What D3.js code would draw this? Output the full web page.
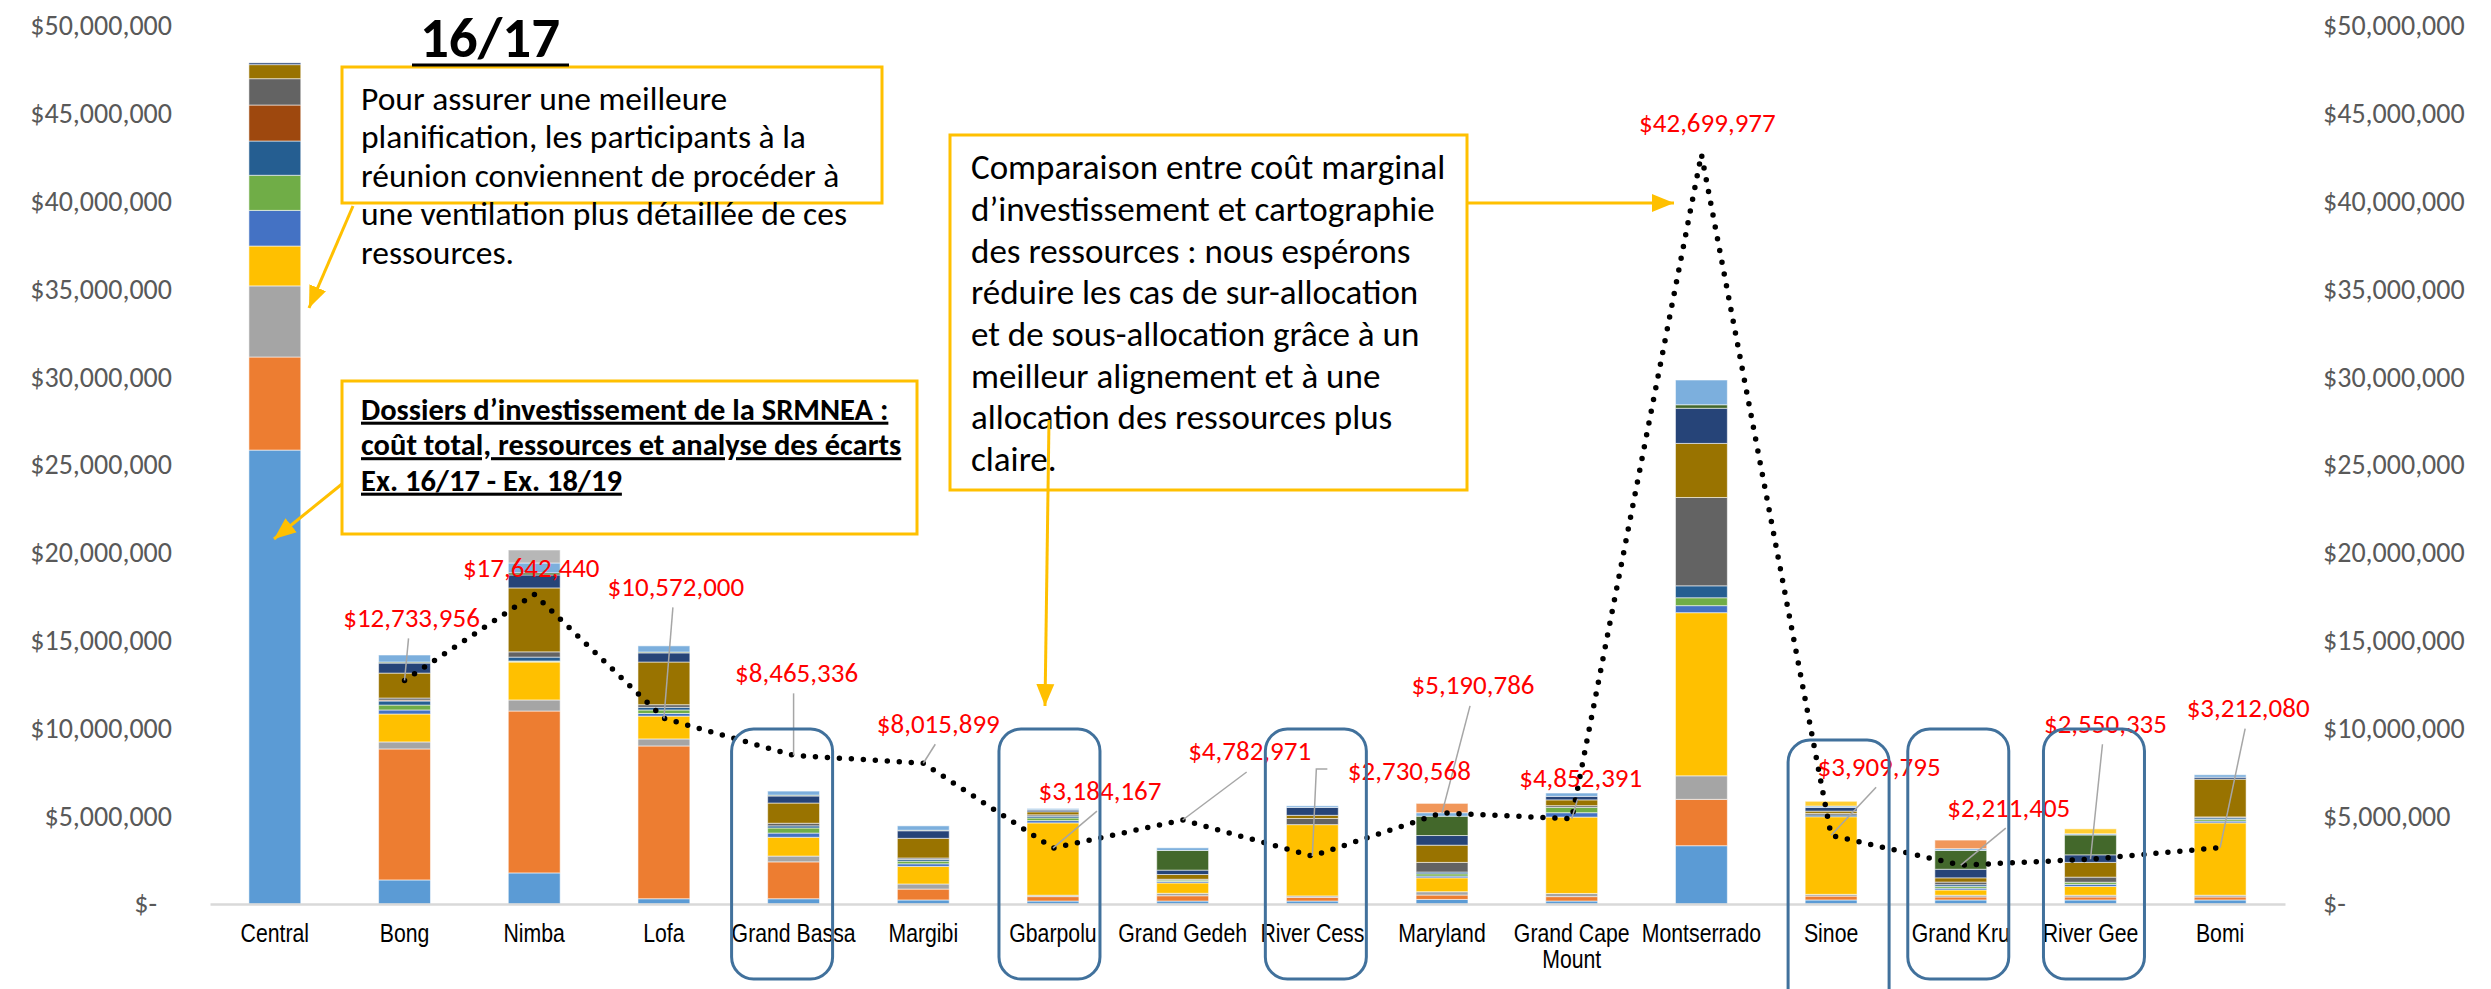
<!DOCTYPE html>
<meta charset="UTF-8">
<style>

    body {
        margin: 0;
        background: #fff;
    }

    .tick text.val {
        font-family: Carlito, Lato, sans-serif;
        font-size: 28px;
        fill: #595959;
    }

    .cat text {
        font-family: "Liberation Sans", Arial, sans-serif;
        font-size: 25px;
        fill: #000;
    }

    .note {
        font-family: Carlito, Lato, sans-serif;
        fill: #000;
    }

    .dlabel {
        font-family: Carlito, Lato, sans-serif;
        font-size: 27px;
        fill: #ff0000;
    }

</style>

<body>

    <div id="chart"></div>

    <script src="https://d3js.org/d3.v7.min.js"></script>

    <script>

        // categories on the x axis
        var categories = ["Central", "Bong", "Nimba", "Lofa", "Grand Bassa", "Margibi", "Gbarpolu",
            "Grand Gedeh", "River Cess", "Maryland", "Grand Cape Mount", "Montserrado", "Sinoe",
            "Grand Kru", "River Gee", "Bomi"];

        // resources per funding source, in millions of dollars (one value per category)
        var res01 = [25.85, 1.37, 1.77, 0.30, 0.30, 0.23, 0.17, 0.17, 0.17, 0.26, 0.17, 3.32, 0.23, 0.23, 0.23, 0.23];
        var res02 = [5.30, 7.46, 9.22, 8.70, 2.10, 0.62, 0.25, 0.30, 0.21, 0.25, 0.25, 2.64, 0.22, 0.17, 0.17, 0.17];
        var res03 = [4.05, 0.40, 0.63, 0.40, 0.33, 0.29, 0.08, 0.14, 0.08, 0.19, 0.18, 1.34, 0.10, 0.10, 0.10, 0.10];
        var res04 = [2.27, 1.59, 2.16, 1.30, 1.07, 1.00, 4.12, 0.59, 4.06, 0.79, 4.35, 9.29, 4.42, 0.30, 0.50, 4.12];
        var res05 = [2.03, 0.23, 0.03, 0.15, 0.24, 0.15, 0.13, 0.08, 0.00, 0.10, 0.25, 0.40, 0.00, 0.10, 0.12, 0.10];
        var res06 = [2.00, 0.28, 0.03, 0.20, 0.29, 0.15, 0.15, 0.08, 0.00, 0.13, 0.30, 0.45, 0.00, 0.10, 0.12, 0.10];
        var res07 = [1.95, 0.23, 0.22, 0.15, 0.12, 0.10, 0.10, 0.00, 0.00, 0.10, 0.00, 0.68, 0.10, 0.10, 0.00, 0.09];
        var res08 = [2.05, 0.05, 0.00, 0.00, 0.00, 0.00, 0.00, 0.00, 0.00, 0.00, 0.00, 0.00, 0.00, 0.00, 0.00, 0.00];
        var res09 = [1.50, 0.12, 0.30, 0.15, 0.15, 0.08, 0.08, 0.05, 0.35, 0.55, 0.10, 5.03, 0.09, 0.15, 0.29, 0.05];
        var res10 = [0.80, 1.42, 3.64, 2.43, 1.15, 1.12, 0.17, 0.27, 0.18, 0.98, 0.33, 3.08, 0.13, 0.24, 0.84, 2.15];
        var res11 = [0.10, 0.57, 0.74, 0.52, 0.40, 0.43, 0.10, 0.25, 0.45, 0.55, 0.20, 2.00, 0.21, 0.49, 0.43, 0.11];
        var res12 = [0.00, 0.06, 0.12, 0.05, 0.05, 0.03, 0.02, 1.12, 0.00, 1.10, 0.00, 0.20, 0.00, 1.07, 1.13, 0.00];
        var res13 = [0.00, 0.40, 0.56, 0.35, 0.23, 0.25, 0.07, 0.15, 0.09, 0.20, 0.19, 1.41, 0.08, 0.10, 0.07, 0.14];
        var res14 = [0.00, 0.00, 0.00, 0.00, 0.00, 0.00, 0.00, 0.00, 0.00, 0.53, 0.00, 0.00, 0.00, 0.49, 0.00, 0.00];
        var res15 = [0.00, 0.00, 0.74, 0.00, 0.00, 0.00, 0.00, 0.00, 0.00, 0.00, 0.00, 0.00, 0.00, 0.00, 0.00, 0.00];
        var res16 = [0.00, 0.00, 0.00, 0.00, 0.00, 0.00, 0.00, 0.00, 0.00, 0.00, 0.00, 0.00, 0.27, 0.00, 0.28, 0.00];

        var resources = [res01, res02, res03, res04, res05, res06, res07, res08,
            res09, res10, res11, res12, res13, res14, res15, res16];

        // total investment cost (dotted line), in dollars
        var investCost = [null, 12733956, 17642440, 10572000, 8465336, 8015899, 3184167, 4782971,
            2730568, 5190786, 4852391, 42699977, 3909795, 2211405, 2550335, 3212080];

        // y axis ticks, in millions of dollars
        var yTicks = [0, 5, 10, 15, 20, 25, 30, 35, 40, 45, 50];

        // categories framed by a rounded box
        var framed = ["Grand Bassa", "Gbarpolu", "River Cess", "Sinoe", "Grand Kru", "River Gee"];

        // colours of the funding sources
        var colors = ["#5b9bd5", "#ed7d31", "#a5a5a5", "#ffc000", "#4472c4", "#70ad47", "#255e91", "#9e480e",
            "#636363", "#997300", "#264478", "#43682b", "#7cafdd", "#f1975a", "#b7b7b7", "#ffcd33"];

        // where each value label sits, relative to its point
        var labelDx = [0, 7, -3, 12, 3, 15, 47, 67, 97, 31, 9, 6, 48, 48, 15, 28];
        var labelDy = [0, -63, -27, -132, -83, -40, -58, -69, -86, -128, -41, -32, -69, -58, -136, -140];
        var leader = [0, 1, 0, 1, 1, 1, 1, 1, 2, 1, 1, 0, 1, 1, 1, 1];
        var frameDx = [-12, -4, 3, 7, -3, 3];

        var width = 2491, height = 989;

        var svg = d3.select("#chart").append("svg")
            .attr("width", width)
            .attr("height", height);

        // set the ranges
        var x = d3.scaleBand()
            .domain(categories)
            .range([210, 2285])
            .paddingInner(0.6)
            .paddingOuter(0.3);

        var y = d3.scaleLinear()
            .domain([0, 50])
            .range([904, 26]);

        function cx(c) { return x(c) + x.bandwidth() / 2; }

        var money = d3.format(",");
        function tickText(d) { return d === 0 ? "$-" : "$" + money(d * 1e6); }

        // left and right axes
        var left = svg.append("g")
            .attr("transform", "translate(172,0)")
            .call(d3.axisLeft(y).tickValues(yTicks).tickSize(0).tickPadding(0).tickFormat(tickText));
        left.select(".domain").remove();
        left.selectAll("text").attr("class", "val")
            .attr("dx", function(d) { return d === 0 ? -15 : 0; });

        var right = svg.append("g")
            .attr("transform", "translate(2323,0)")
            .call(d3.axisRight(y).tickValues(yTicks).tickSize(0).tickPadding(0).tickFormat(tickText));
        right.select(".domain").remove();
        right.selectAll("text").attr("class", "val");

        // stack the resources
        var rows = categories.map(function(c, i) {
            var r = { cat: c };
            resources.forEach(function(s, k) { r[k] = s[i]; });
            return r;
        });
        var stacked = d3.stack().keys(d3.range(resources.length))(rows);

        svg.append("g").selectAll("g")
            .data(stacked)
            .enter().append("g")
                .attr("fill", function(d, k) { return colors[k]; })
            .selectAll("rect")
            .data(function(d) { return d.filter(function(p) { return p[1] > p[0]; }); })
            .enter().append("rect")
                .attr("x", function(d) { return x(d.data.cat); })
                .attr("width", x.bandwidth())
                .attr("y", function(d) { return y(d[1]); })
                .attr("height", function(d) { return y(d[0]) - y(d[1]); })
                .attr("stroke", "#fff")
                .attr("stroke-opacity", 0.55)
                .attr("stroke-width", 1);

        // bottom axis
        var bottom = svg.append("g")
            .attr("class", "cat")
            .attr("transform", "translate(0,904)")
            .call(d3.axisBottom(x).tickSize(0).tickSizeOuter(0).tickPadding(20));
        bottom.select(".domain")
            .attr("stroke", "#d9d9d9")
            .attr("stroke-width", 2.5);
        bottom.selectAll("text")
            .attr("transform", "scale(0.85,1)")
            .each(function(d) {
                if (d !== "Grand Cape Mount") return;
                var t = d3.select(this).text(null);
                t.append("tspan").attr("x", 0).text("Grand Cape");
                t.append("tspan").attr("x", 0).attr("dy", 26).text("Mount");
            });

        // dotted cost line
        var pts = categories.map(function(c, i) {
            return { cat: c, v: investCost[i], i: i };
        });
        var shown = pts.filter(function(d) { return d.v != null; });

        var valueline = d3.line()
            .x(function(d) { return cx(d.cat); })
            .y(function(d) { return y(d.v / 1e6); });

        svg.append("path")
            .datum(shown)
            .attr("d", valueline)
            .attr("fill", "none")
            .attr("stroke", "#000")
            .attr("stroke-width", 5.5)
            .attr("stroke-linecap", "round")
            .attr("stroke-linejoin", "round")
            .attr("stroke-dasharray", "0 12");

        // leader lines and value labels
        svg.append("g").selectAll("path")
            .data(shown.filter(function(d) { return leader[d.i] > 0; }))
            .enter().append("path")
                .attr("fill", "none")
                .attr("stroke", "#a6a6a6")
                .attr("stroke-width", 1.5)
                .attr("d", function(d) {
                    var px = cx(d.cat), py = y(d.v / 1e6);
                    var lx = px + labelDx[d.i], ly = py + labelDy[d.i];
                    if (leader[d.i] === 2) {
                        return "M" + (lx - 82) + "," + (ly - 1) + "H" + (px + 4) + "L" + px + "," + py;
                    }
                    return "M" + (lx - 3) + "," + (ly + 21) + "L" + px + "," + py;
                });

        svg.append("g").selectAll("text")
            .data(shown)
            .enter().append("text")
                .attr("class", "dlabel")
                .attr("text-anchor", "middle")
                .attr("dy", "0.35em")
                .attr("x", function(d) { return cx(d.cat) + labelDx[d.i]; })
                .attr("y", function(d) { return y(d.v / 1e6) + labelDy[d.i]; })
                .text(function(d) { return "$" + money(d.v); });

        // rounded frames around some categories
        svg.append("g").selectAll("rect")
            .data(framed)
            .enter().append("rect")
                .attr("x", function(d, k) { return cx(d) - 50 + frameDx[k]; })
                .attr("y", function(d) { return d === "Sinoe" ? 740 : 729; })
                .attr("width", 101)
                .attr("height", function(d) { return d === "Sinoe" ? 300 : 250; })
                .attr("rx", 22)
                .attr("fill", "none")
                .attr("stroke", "#41719c")
                .attr("stroke-width", 3);

        // gold call-out boxes and arrows
        var gold = "#ffc000";
        svg.append("defs").append("marker")
            .attr("id", "head")
            .attr("markerUnits", "userSpaceOnUse")
            .attr("markerWidth", 24)
            .attr("markerHeight", 20)
            .attr("refX", 22)
            .attr("refY", 10)
            .attr("orient", "auto")
            .append("path")
                .attr("d", "M0,1 L22,10 L0,19 Z")
                .attr("fill", gold);

        function box(x0, y0, w, h) {
            svg.append("rect")
                .attr("x", x0).attr("y", y0)
                .attr("width", w).attr("height", h)
                .attr("fill", "#fff")
                .attr("stroke", gold)
                .attr("stroke-width", 3);
        }

        function lines(x0, y0, step, size, bold, list) {
            var t = svg.append("text")
                .attr("class", "note")
                .attr("font-size", size)
                .attr("font-weight", bold ? "bold" : "normal")
                .style("text-decoration", bold ? "underline" : "none");
            list.forEach(function(s, k) {
                t.append("tspan")
                    .attr("x", x0)
                    .attr("y", y0 + k * step)
                    .attr("dy", "0.35em")
                    .text(s);
            });
        }

        function arrow(x1, y1, x2, y2) {
            svg.append("line")
                .attr("x1", x1).attr("y1", y1)
                .attr("x2", x2).attr("y2", y2)
                .attr("stroke", gold)
                .attr("stroke-width", 3)
                .attr("marker-end", "url(#head)");
        }

        box(342, 67, 540, 136);
        lines(361, 98, 38.5, 33.5, false, [
            "Pour assurer une meilleure",
            "planification, les participants à la",
            "réunion conviennent de procéder à",
            "une ventilation plus détaillée de ces",
            "ressources."]);

        box(342, 381, 575, 153);
        lines(361, 409, 35.5, 30.5, true, [
            "Dossiers d’investissement de la SRMNEA :",
            "coût total, ressources et analyse des écarts",
            "Ex. 16/17 - Ex. 18/19"]);

        box(950, 135, 517, 355);
        lines(971, 167, 41.7, 35, false, [
            "Comparaison entre coût marginal",
            "d’investissement et cartographie",
            "des ressources : nous espérons",
            "réduire les cas de sur-allocation",
            "et de sous-allocation grâce à un",
            "meilleur alignement et à une",
            "allocation des ressources plus",
            "claire."]);

        arrow(353, 206, 309, 308);
        arrow(342, 484, 274, 539);
        arrow(1467, 203, 1674, 203);
        arrow(1049, 420, 1045, 706);

        // title
        svg.append("text")
            .attr("class", "note")
            .attr("x", 490)
            .attr("y", 57)
            .attr("text-anchor", "middle")
            .attr("font-size", 57)
            .attr("font-weight", "bold")
            .text("16/17");
        svg.append("line")
            .attr("x1", 412).attr("x2", 569)
            .attr("y1", 65).attr("y2", 65)
            .attr("stroke", "#000")
            .attr("stroke-width", 3);

    </script>

</body>
